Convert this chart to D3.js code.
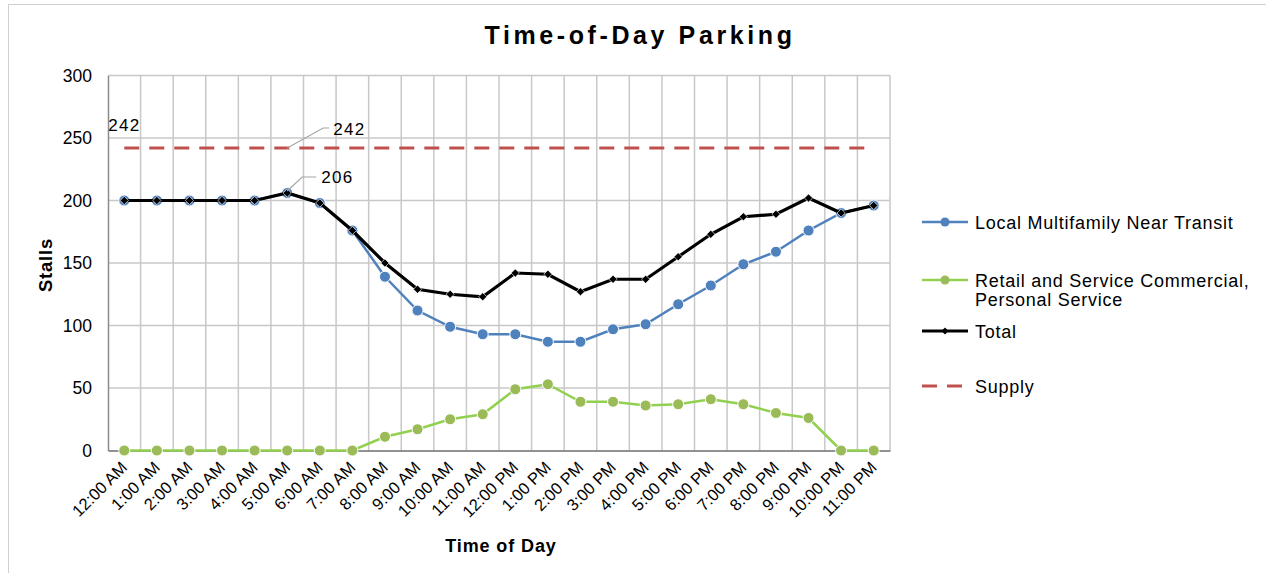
<!DOCTYPE html>
<html><head><meta charset="utf-8">
<script src="https://cdn.jsdelivr.net/npm/d3@7"></script>
<style>
body{margin:0;background:#fff;}
text{font-family:"Liberation Sans",Arial,sans-serif;fill:#000;}
</style></head>
<body>
<svg id="c" width="1266" height="573"></svg>
<script>
const times = ["12:00 AM","1:00 AM","2:00 AM","3:00 AM","4:00 AM","5:00 AM","6:00 AM","7:00 AM","8:00 AM","9:00 AM","10:00 AM","11:00 AM","12:00 PM","1:00 PM","2:00 PM","3:00 PM","4:00 PM","5:00 PM","6:00 PM","7:00 PM","8:00 PM","9:00 PM","10:00 PM","11:00 PM"];
const localMF = [200,200,200,200,200,206,198,176,139,112,99,93,93,87,87,97,101,117,132,149,159,176,190,196];
const retail  = [0,0,0,0,0,0,0,0,11,17,25,29,49,53,39,39,36,37,41,37,30,26,0,0];
const total   = [200,200,200,200,200,206,198,176,150,129,125,123,142,141,127,137,137,155,173,187,189,202,190,196];
const supply  = [242,242,242,242,242,242,242,242,242,242,242,242,242,242,242,242,242,242,242,242,242,242,242,242];
const yTicks  = [0,50,100,150,200,250,300];
const seriesNames = ["Local Multifamily Near Transit","Retail and Service Commercial,|Personal Service","Total","Supply"];

const svg = d3.select("#c");
// outer frame
svg.append("rect").attr("x",8.5).attr("y",4.5).attr("width",1400).attr("height",700)
  .attr("fill","none").attr("stroke","#d0d0d0").attr("stroke-width",1);

const x = d3.scaleBand().domain(times).range([108,890]);
const bw = x.bandwidth();
const px = d => x(d)+bw/2;
const y = d3.scaleLinear().domain([0,300]).range([450.5,75.5]);

// gridlines
const g = svg.append("g");
g.selectAll(".hg").data(yTicks.slice(1)).enter().append("line")
  .attr("x1",108).attr("x2",890).attr("y1",d=>y(d)).attr("y2",d=>y(d))
  .attr("stroke","#c8c8c8").attr("stroke-width",1.5);
const bounds = times.map(t=>x(t)).concat([890]);
g.selectAll(".vg").data(bounds.slice(1)).enter().append("line")
  .attr("x1",d=>d).attr("x2",d=>d).attr("y1",y(300)).attr("y2",y(0))
  .attr("stroke","#c8c8c8").attr("stroke-width",1.5);

// axes
const yAxis = d3.axisLeft(y).tickValues(yTicks).tickSize(0).tickPadding(16);
const ya = svg.append("g").attr("transform","translate(108,0)").call(yAxis);
ya.select(".domain").attr("stroke","#8c8c8c").attr("stroke-width",1.5);
ya.selectAll("text").style("font-size","17.5px").attr("fill","#000").attr("font-family","Liberation Sans, Arial, sans-serif");

const xAxis = d3.axisBottom(x).tickSize(0).tickPadding(0);
const xa = svg.append("g").attr("transform",`translate(0,${y(0)})`).call(xAxis);
xa.select(".domain").attr("stroke","#6e6e6e").attr("stroke-width",1.5);
xa.selectAll(".tick text").attr("fill","#000")
  .style("font-size","16.5px").attr("font-family","Liberation Sans, Arial, sans-serif")
  .attr("text-anchor","end").attr("dy",null).attr("y",0)
  .attr("transform","translate(4,18) rotate(-45)");

// axis titles
svg.append("text").attr("x",501).attr("y",552).attr("text-anchor","middle")
  .style("font-size","18px").style("font-weight","bold").style("letter-spacing","0.9px").text("Time of Day");
svg.append("text").attr("transform","translate(52,265) rotate(-90)").attr("text-anchor","middle")
  .style("font-size","18.5px").style("font-weight","bold").style("letter-spacing","0.8px").text("Stalls");

// title
svg.append("text").attr("x",640).attr("y",44).attr("text-anchor","middle")
  .style("font-size","25px").style("font-weight","bold").style("letter-spacing","3.6px")
  .text("Time-of-Day Parking");

const line = d3.line().x((d,i)=>px(times[i])).y(d=>y(d));

// supply
svg.append("path").datum(supply).attr("d",line).attr("fill","none")
  .attr("stroke","#c0504d").attr("stroke-width",3.2).attr("stroke-dasharray","15,10");

// retail
svg.append("path").datum(retail).attr("d",line).attr("fill","none")
  .attr("stroke","#92d050").attr("stroke-width",2.5);
svg.selectAll(".rm").data(retail).enter().append("circle")
  .attr("cx",(d,i)=>px(times[i])).attr("cy",d=>y(d)).attr("r",5.5)
  .attr("fill","#9bbb59").attr("stroke","#fff").attr("stroke-width",1);

// local
svg.append("path").datum(localMF).attr("d",line).attr("fill","none")
  .attr("stroke","#4f81bd").attr("stroke-width",2.5);
svg.selectAll(".lm").data(localMF).enter().append("circle")
  .attr("cx",(d,i)=>px(times[i])).attr("cy",d=>y(d)).attr("r",5.5)
  .attr("fill","#4f81bd").attr("stroke","#fff").attr("stroke-width",1);

// total
svg.append("path").datum(total).attr("d",line).attr("fill","none")
  .attr("stroke","#000").attr("stroke-width",3.2);
const dia = d3.symbol().type(d3.symbolSquare).size(34);
svg.selectAll(".tm").data(total).enter().append("path")
  .attr("d",dia).attr("transform",(d,i)=>`translate(${px(times[i])},${y(d)}) rotate(45)`)
  .attr("fill","#000").attr("stroke","#fff").attr("stroke-width",0.6);

// data labels
const lab = svg.append("g");
lab.append("text").attr("x",px(times[0])-16).attr("y",y(supply[0])-17)
  .style("font-size","17px").style("letter-spacing","1.3px").text(supply[0]);
const sx = px(times[5]), sy = y(supply[5]);
lab.append("polyline").attr("points",`${sx},${sy} ${sx+36},${sy-20} ${sx+42},${sy-20}`)
  .attr("fill","none").attr("stroke","#a6a6a6").attr("stroke-width",1.2);
lab.append("text").attr("x",sx+46).attr("y",sy-13).style("font-size","17px").style("letter-spacing","1.3px").text(supply[5]);
const tx = px(times[5]), ty = y(total[5]);
lab.append("polyline").attr("points",`${tx},${ty-2} ${tx+15},${ty-16} ${tx+29},${ty-16}`)
  .attr("fill","none").attr("stroke","#a6a6a6").attr("stroke-width",1.2);
lab.append("text").attr("x",tx+34).attr("y",ty-10).style("font-size","17px").style("letter-spacing","1.3px").text(total[5]);

// legend
const leg = svg.append("g");
const lx0 = 922, lx1 = 968, tx0 = 975;
const ly = [222, 280, 331, 386];
leg.append("line").attr("x1",lx0).attr("x2",lx1).attr("y1",ly[0]).attr("y2",ly[0]).attr("stroke","#4f81bd").attr("stroke-width",2.5);
leg.append("circle").attr("cx",(lx0+lx1)/2).attr("cy",ly[0]).attr("r",4.5).attr("fill","#4f81bd");
leg.append("line").attr("x1",lx0).attr("x2",lx1).attr("y1",ly[1]).attr("y2",ly[1]).attr("stroke","#92d050").attr("stroke-width",2.5);
leg.append("circle").attr("cx",(lx0+lx1)/2).attr("cy",ly[1]).attr("r",4.5).attr("fill","#9bbb59");
leg.append("line").attr("x1",lx0).attr("x2",lx1).attr("y1",ly[2]).attr("y2",ly[2]).attr("stroke","#000").attr("stroke-width",3.2);
leg.append("path").attr("d",d3.symbol().type(d3.symbolSquare).size(24)).attr("transform",`translate(${(lx0+lx1)/2},${ly[2]}) rotate(45)`).attr("fill","#000");
leg.append("line").attr("x1",lx0).attr("x2",lx1).attr("y1",ly[3]).attr("y2",ly[3]).attr("stroke","#c0504d").attr("stroke-width",3.2).attr("stroke-dasharray","15,10");

seriesNames.forEach((n,i)=>{
  const t = leg.append("text").attr("x",tx0).attr("y",ly[i]+6.5).style("font-size","18px").style("letter-spacing","0.75px");
  n.split("|").forEach((p,j)=>t.append("tspan").attr("x",tx0).attr("dy",j?19:0).text(p));
});
</script>
</body></html>
